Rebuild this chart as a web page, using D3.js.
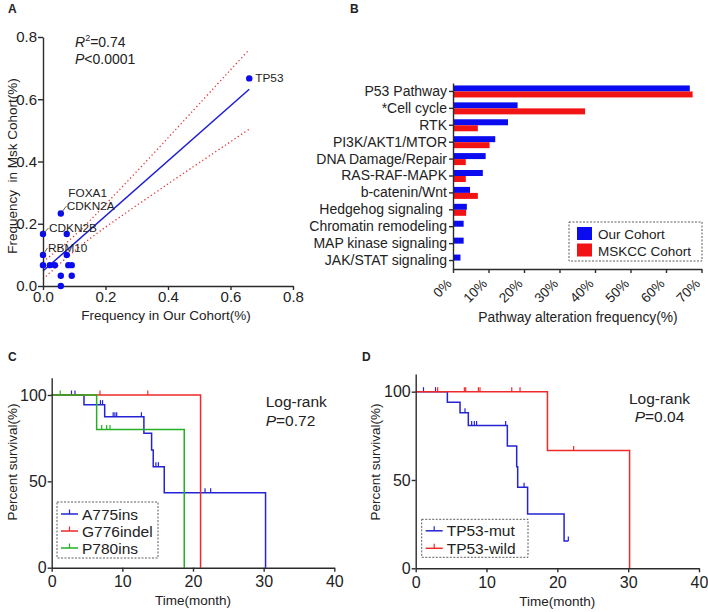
<!DOCTYPE html>
<html><head><meta charset="utf-8">
<script src="https://cdn.jsdelivr.net/npm/d3@7"></script>
<style>
body{margin:0;background:#fff}
svg{display:block}
text{font-family:"Liberation Sans",Arial,Helvetica,sans-serif;fill:#222}
</style>
</head><body>
<svg id="c" width="708" height="612"></svg>
<script>
// ================= DATA =================
// Panel A: gene alteration frequency, our cohort vs MSK cohort
const ourFreq = [0.660, 0.057, 0.000, 0.076, 0.000, 0.076, 0.000, 0.022, 0.038, 0.081, 0.092, 0.057, 0.092, 0.057];
const mskFreq = [0.667, 0.233, 0.167, 0.167, 0.100, 0.100, 0.067, 0.067, 0.067, 0.067, 0.067, 0.033, 0.033, 0.000];
const geneLabels = ["TP53", "FOXA1", "CDKN2A", "CDKN2B", "RBM10"];
const geneLabelPoint = [0, 1, 1, 2, 4];
const fitX = [0, 0.66];
const fitY = [0.048, 0.632];
const bandX = [0, 0.1, 0.2, 0.3, 0.4, 0.5, 0.66];
const bandUpper = [0.078, 0.161, 0.262, 0.368, 0.476, 0.585, 0.760];
const bandLower = [0.022, 0.112, 0.189, 0.259, 0.328, 0.396, 0.504];
const axisTicksA = [0, 0.2, 0.4, 0.6, 0.8];

// Panel B: pathway alteration frequency (%)
const pathways = ["P53 Pathway", "*Cell cycle", "RTK", "PI3K/AKT1/MTOR", "DNA Damage/Repair", "RAS-RAF-MAPK",
  "b-catenin/Wnt", "Hedgehog signaling ", "Chromatin remodeling", "MAP kinase signaling", "JAK/STAT signaling"];
const ourCohort = [66.7, 18.2, 15.5, 11.9, 9.2, 8.4, 4.8, 3.9, 3.0, 3.0, 2.1];
const mskccCohort = [67.5, 37.2, 7.0, 10.3, 3.6, 3.6, 7.0, 3.7, 0, 0, 0];
const ticksB = [0, 10, 20, 30, 40, 50, 60, 70];
const legendB = ["Our Cohort", "MSKCC Cohort"];

// Panel C: survival by insertion type  (steps: [time, survival%])
const a775Steps = [[0,100],[4.57,94.4],[7.5,87.4],[13.05,77.8],[14.14,68.2],[14.37,58.5],[15.93,43.4],[30.27,0]];
const a775Censor = [2.8, 3.3, 6.9, 7.2, 8.7, 8.95, 9.2, 12.7, 14.75, 15.1, 21.7, 22.5];
const g776Steps = [[0,100],[21.07,0]];
const g776Censor = [6.83, 13.6];
const p780Steps = [[0,100],[6.36,80],[18.76,0]];
const p780Censor = [1.2, 7.07, 7.78, 8.25];
const legendC = ["A775ins", "G776indel", "P780ins"];

// Panel D: survival by TP53 status
const mutSteps = [[0,100],[4.47,94],[6.26,88.1],[7.43,80.8],[12.94,69.3],[14.26,57.5],[14.4,45.9],[15.8,30.7],[20.95,15.5],[21.55,15.5]];
const mutCensor = [1.1, 2.8, 6.96, 7.9, 8.28, 8.6, 12.7, 15.3, 21.55];
const wildSteps = [[0,100],[18.6,66.7],[30.2,0]];
const wildCensor = [3.1, 6.87, 7.06, 8.85, 9.08, 13.56, 14.73, 22.3];
const legendD = ["TP53-mut", "TP53-wild"];

const survTicksX = [0, 10, 20, 30, 40];
const survTicksY = [0, 50, 100];

// ================= DRAW =================
const FONT = '"Liberation Sans", Arial, Helvetica, sans-serif';
const AX = "#2b2b2b";
const BLUE = "#0b0bef", RED = "#f21414", GREEN = "#23b123";
const LBLUE = "#2424d4", LRED = "#ee2a2a";
const svg = d3.select("#c");

function styleAxis(g, fs) {
  g.attr("font-family", FONT).attr("font-size", fs);
  g.selectAll("path.domain, .tick line").attr("stroke", AX).attr("stroke-width", 1.4);
  g.selectAll("text").attr("fill", "#222");
  return g;
}
function label(t, x, y, fs, opts = {}) {
  const el = svg.append("text").attr("x", x).attr("y", y).attr("font-size", fs).text(t);
  if (opts.anchor) el.attr("text-anchor", opts.anchor);
  if (opts.bold) el.attr("font-weight", "bold");
  if (opts.rotate) el.attr("transform", `rotate(-90,${x},${y})`);
  return el;
}

// ---------- Panel A ----------
label("A", 8, 13, 12, {bold: true});
const xA = d3.scaleLinear().domain([0, 0.8]).range([43, 293]);
const yA = d3.scaleLinear().domain([0, 0.8]).range([286, 37]);

// confidence bands
const bandIdx = d3.range(bandX.length);
[bandUpper, bandLower].forEach(arr => {
  svg.append("path")
    .attr("d", d3.line().x(i => xA(bandX[i])).y(i => yA(arr[i])).curve(d3.curveNatural)(bandIdx))
    .attr("fill", "none").attr("stroke", "#e0383a").attr("stroke-width", 1.3)
    .attr("stroke-dasharray", "1.3,2.6");
});
// fit line
svg.append("line")
  .attr("x1", xA(fitX[0])).attr("y1", yA(fitY[0]))
  .attr("x2", xA(fitX[1])).attr("y2", yA(fitY[1]))
  .attr("stroke", "#1c1cd8").attr("stroke-width", 1.5);

styleAxis(svg.append("g").attr("transform", `translate(${xA(0)},0)`)
  .call(d3.axisLeft(yA).tickValues(axisTicksA).tickFormat(d3.format(".1f")).tickSize(5).tickSizeOuter(0).tickPadding(1)), 15);
styleAxis(svg.append("g").attr("transform", `translate(0,${yA(0)})`)
  .call(d3.axisBottom(xA).tickValues(axisTicksA).tickFormat(d3.format(".1f")).tickSize(4).tickSizeOuter(0).tickPadding(1)), 15);

svg.append("g").selectAll("circle").data(ourFreq).join("circle")
  .attr("cx", d => xA(d)).attr("cy", (d, i) => yA(mskFreq[i])).attr("r", 3.2).attr("fill", BLUE);

// gene labels (offsets relative to their point)
const labelOffsets = [[6, 4], [7.5, -16.5], [6, -3.3], [6, -2], [5, -3]];
const leader = [false, false, true, true, true];
geneLabels.forEach((g, k) => {
  const i = geneLabelPoint[k];
  const px = xA(ourFreq[i]), py = yA(mskFreq[i]);
  const [dx, dy] = labelOffsets[k];
  if (leader[k]) {
    svg.append("line").attr("x1", px).attr("y1", py).attr("x2", px + dx - 0.5).attr("y2", py + dy - 4)
      .attr("stroke", "#333").attr("stroke-width", 0.8);
  }
  label(g, px + dx, py + dy, 11.8);
});

const r2 = svg.append("text").attr("x", 75).attr("y", 47).attr("font-size", 14);
r2.append("tspan").attr("font-style", "italic").text("R");
r2.append("tspan").attr("font-size", 9).attr("dy", -6).text("2");
r2.append("tspan").attr("dy", 6).text("=0.74");
const pA = svg.append("text").attr("x", 75).attr("y", 64).attr("font-size", 14);
pA.append("tspan").attr("font-style", "italic").text("P");
pA.append("tspan").text("<0.0001");

label("Frequency in Our Cohort(%)", 166, 320, 13.5, {anchor: "middle"});
label("Frequency  in Msk Cohort(%)", 17, 166, 13.5, {anchor: "middle", rotate: true}).style("white-space", "pre");

// ---------- Panel B ----------
label("B", 350, 13, 12, {bold: true});
const xB = d3.scaleLinear().domain([0, 70]).range([453, 701.5]);
const yB = d3.scaleBand().domain(pathways).range([83, 269]);
const bh = 6;
svg.append("g").selectAll("rect").data(pathways).join("rect")
  .attr("x", xB(0)).attr("y", p => yB(p) + yB.bandwidth() / 2 - bh)
  .attr("width", (p, i) => xB(ourCohort[i]) - xB(0)).attr("height", bh).attr("fill", BLUE);
svg.append("g").selectAll("rect").data(pathways).join("rect")
  .attr("x", xB(0)).attr("y", p => yB(p) + yB.bandwidth() / 2)
  .attr("width", (p, i) => xB(mskccCohort[i]) - xB(0)).attr("height", bh).attr("fill", RED);

const gBy = styleAxis(svg.append("g").attr("transform", `translate(${xB(0)},0)`)
  .call(d3.axisLeft(yB).tickSize(4).tickSizeOuter(0).tickPadding(2)), 14);
gBy.selectAll("text").attr("xml:space", "preserve").style("white-space", "pre");
const gBx = styleAxis(svg.append("g").attr("transform", `translate(0,269)`)
  .call(d3.axisBottom(xB).tickValues(ticksB).tickFormat(d => d + "%").tickSize(4).tickSizeOuter(0)), 13.5);
gBx.selectAll("text").attr("x", 0).attr("y", 0).attr("dy", 0)
  .attr("text-anchor", "end").attr("transform", "translate(-1,15.5) rotate(-45)");
label("Pathway alteration frequency(%)", 578, 322, 13.8, {anchor: "middle"});

// legend B
svg.append("rect").attr("x", 569).attr("y", 222).attr("width", 133).attr("height", 39)
  .attr("fill", "none").attr("stroke", "#333").attr("stroke-width", 0.8).attr("stroke-dasharray", "2,1.5");
legendB.forEach((t, i) => {
  svg.append("rect").attr("x", 577).attr("y", 227 + i * 16.5).attr("width", 15).attr("height", 13)
    .attr("fill", i === 0 ? BLUE : RED);
  label(t, 598, 239 + i * 16.5, 13.5);
});

// ---------- Survival helper ----------
function drawKM(cfg) {
  const x = d3.scaleLinear().domain([0, 40]).range(cfg.xr);
  const y = d3.scaleLinear().domain([0, 110]).range(cfg.yr);
  cfg.curves.forEach(c => {
    let d = `M${x(c.steps[0][0])},${y(c.steps[0][1])}`;
    for (let k = 1; k < c.steps.length; k++) {
      d += `H${x(c.steps[k][0])}V${y(c.steps[k][1])}`;
    }
    svg.append("path").attr("d", d).attr("fill", "none").attr("stroke", c.color).attr("stroke-width", 1.5);
    const level = t => { let s = c.steps[0][1]; c.steps.forEach(p => { if (p[0] <= t) s = p[1]; }); return s; };
    svg.append("g").selectAll("line").data(c.censor).join("line")
      .attr("x1", t => x(t)).attr("x2", t => x(t))
      .attr("y1", t => y(level(t))).attr("y2", t => y(level(t)) - 4.5)
      .attr("stroke", c.color).attr("stroke-width", 1.2);
  });
  styleAxis(svg.append("g").attr("transform", `translate(${x(0)},0)`)
    .call(d3.axisLeft(y).tickValues(survTicksY).tickSize(4).tickSizeOuter(0).tickPadding(1)), 16);
  styleAxis(svg.append("g").attr("transform", `translate(0,${y(0)})`)
    .call(d3.axisBottom(x).tickValues(survTicksX).tickSize(4).tickSizeOuter(0).tickPadding(4)), 16);
  label("Time(month)", (cfg.xr[0] + cfg.xr[1]) / 2, y(0) + 37.5, 13.5, {anchor: "middle"});
  label("Percent survival(%)", cfg.ylx, cfg.yly, 13.5, {anchor: "middle", rotate: true});
  // legend
  const L = cfg.legend;
  svg.append("rect").attr("x", L.x).attr("y", L.y).attr("width", L.w).attr("height", L.h)
    .attr("fill", "none").attr("stroke", "#333").attr("stroke-width", 0.8).attr("stroke-dasharray", "2,1.5");
  cfg.curves.forEach((c, i) => {
    const cy = L.y + L.first + i * L.step;
    svg.append("line").attr("x1", L.x + 4).attr("x2", L.x + 21).attr("y1", cy).attr("y2", cy)
      .attr("stroke", c.color).attr("stroke-width", 1.5);
    svg.append("line").attr("x1", L.x + 12.5).attr("x2", L.x + 12.5).attr("y1", cy).attr("y2", cy - 4.5)
      .attr("stroke", c.color).attr("stroke-width", 1.2);
    label(c.name, L.x + 25, cy + 5.5, 15.5);
  });
  // log-rank
  const lr = cfg.logrank;
  label("Log-rank", lr.x, lr.y, 15.5, {anchor: lr.anchor});
  const pt = svg.append("text").attr("x", lr.x).attr("y", lr.y + 18.5)
    .attr("font-size", 15.5).attr("text-anchor", lr.anchor);
  pt.append("tspan").attr("font-style", "italic").text("P");
  pt.append("tspan").text(lr.p);
}

// ---------- Panel C ----------
label("C", 8, 361, 12, {bold: true});
drawKM({
  xr: [51.7, 334.3], yr: [567.7, 377.7],
  curves: [
    {name: legendC[0], steps: a775Steps, censor: a775Censor, color: LBLUE},
    {name: legendC[1], steps: g776Steps, censor: g776Censor, color: LRED},
    {name: legendC[2], steps: p780Steps, censor: p780Censor, color: GREEN}
  ],
  ylx: 17, yly: 462,
  legend: {x: 57, y: 502, w: 101, h: 56, first: 12, step: 17},
  logrank: {x: 265.7, y: 407, anchor: "start", p: "=0.72"}
});

// ---------- Panel D ----------
label("D", 362, 361, 12, {bold: true});
drawKM({
  xr: [415.7, 699], yr: [568.3, 374],
  curves: [
    {name: legendD[0], steps: mutSteps, censor: mutCensor, color: LBLUE},
    {name: legendD[1], steps: wildSteps, censor: wildCensor, color: LRED}
  ],
  ylx: 380, yly: 462,
  legend: {x: 421.7, y: 519.3, w: 106.3, h: 38, first: 11.5, step: 17.5},
  logrank: {x: 659.5, y: 403.5, anchor: "middle", p: "=0.04"}
});
</script>
</body></html>
